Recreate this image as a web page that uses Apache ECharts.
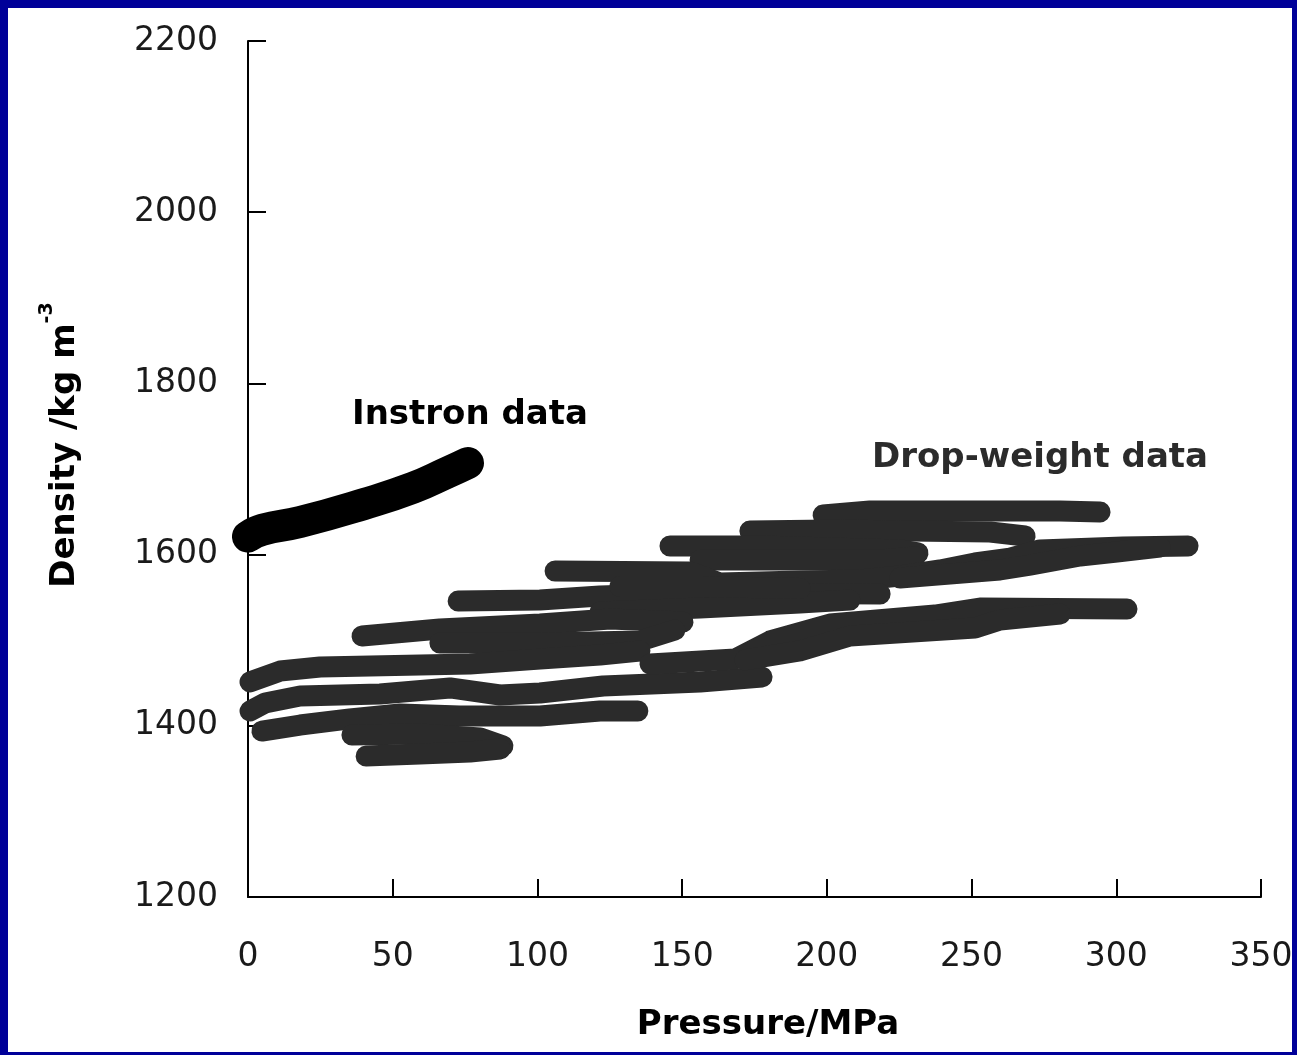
<!DOCTYPE html>
<html>
<head>
<meta charset="utf-8">
<script src="https://cdn.jsdelivr.net/npm/echarts@6/dist/echarts.min.js"></script>
<style>
  html, body { margin: 0; padding: 0; width: 1297px; height: 1055px; background: #000099; overflow: hidden; }
  #chart { position: absolute; left: 8px; top: 8px; width: 1284px; height: 1044px; background: #ffffff; }
</style>
</head>
<body>
<div id="chart"></div>
<script>
// Axis ranges (pressure in MPa, density in kg m^-3)
const pressureRange = [0, 350];
const pressureStep = 50;
const densityRange = [1200, 2200];
const densityStep = 200;

// Instron (quasi-static) compaction curve
const instronPressure = [0, 5, 18, 40, 57, 69, 76];
const instronDensity  = [1621, 1629, 1638, 1659, 1678, 1696, 1707];

// Drop-weight traces, each as [pressure, density] pairs
const dwTrace01 = [[198.7, 1646.3], [214.9, 1650.9], [280.6, 1650.9], [294.4, 1649.8]];
const dwTrace02 = [[173.4, 1627.6], [201.1, 1628.7], [256.4, 1626.4], [268.5, 1621.7]];
const dwTrace03 = [[145.8, 1610.1], [176.9, 1610.1], [225.3, 1605.4], [231.5, 1601.9]];
const dwTrace04 = [[156.2, 1593.7], [218.4, 1593.7], [230.5, 1597.2]];
const dwTrace05 = [[106.1, 1580.8], [152.7, 1579.7], [163.1, 1566.8], [190.7, 1569.2], [211.5, 1570.3],
                   [225.3, 1575.0], [239.1, 1582.0], [251.2, 1590.2], [263.3, 1596.0], [273.6, 1605.4],
                   [302.3, 1608.9], [324.8, 1610.1]];
const dwTrace06 = [[225.3, 1572.7], [242.5, 1577.3], [259.8, 1582.0], [270.2, 1587.8], [287.5, 1598.4],
                   [300.2, 1603.0], [315.1, 1608.9]];
const dwTrace07 = [[72.6, 1545.8], [100.9, 1547.0], [121.6, 1551.6], [156.2, 1555.1], [218.4, 1554.0]];
const dwTrace08 = [[121.6, 1532.9], [156.2, 1537.6], [190.7, 1543.5], [208.0, 1547.0]];
const dwTrace09 = [[39.4, 1504.9], [66.3, 1513.1], [100.9, 1518.9], [125.1, 1524.8], [150.3, 1521.3]];
const dwTrace10 = [[66.3, 1496.7], [100.9, 1496.7], [135.4, 1499.1], [147.5, 1511.9]];
const dwTrace11 = [[0.7, 1451.2], [11.1, 1464.0], [24.9, 1468.7], [76.7, 1472.2], [100.9, 1478.0],
                   [121.6, 1482.7], [135.4, 1487.4]];
const dwTrace12 = [[0.7, 1417.3], [5.9, 1426.6], [18.0, 1434.8], [45.6, 1437.1], [69.8, 1444.2],
                   [87.1, 1436.0], [100.9, 1438.3], [122.7, 1446.5], [156.2, 1451.2], [177.6, 1457.0]];
const dwTrace13 = [[4.8, 1393.9], [18.0, 1400.9], [35.2, 1408.0], [52.5, 1413.8], [73.2, 1411.4],
                   [100.9, 1411.4], [121.6, 1417.3], [134.7, 1417.3]];
const dwTrace14 = [[35.9, 1389.3], [59.4, 1390.4], [80.2, 1385.7], [88.1, 1376.4]];
const dwTrace15 = [[40.8, 1364.7], [59.4, 1367.1], [76.7, 1369.4], [87.1, 1372.9]];
const dwTrace16 = [[138.9, 1472.2], [168.3, 1478.0], [180.4, 1499.1], [201.1, 1518.9], [237.4, 1529.4],
                   [252.9, 1537.6], [303.7, 1536.4]];
const dwTrace17 = [[171.7, 1476.9], [190.7, 1487.4], [208.0, 1504.9], [251.2, 1514.3], [259.8, 1523.6],
                   [280.6, 1530.6]];
const dwTrace18 = [[128.5, 1562.6], [156.2, 1562.6], [190.7, 1560.3]];

const dropWeightTraces = [dwTrace01, dwTrace02, dwTrace03, dwTrace04, dwTrace05, dwTrace06, dwTrace07,
  dwTrace08, dwTrace09, dwTrace10, dwTrace11, dwTrace12, dwTrace13, dwTrace14, dwTrace15, dwTrace16,
  dwTrace17, dwTrace18];

const FONT = '"DejaVu Sans", sans-serif';
const DW_COLOR = '#2b2b2b';

const chart = echarts.init(document.getElementById('chart'), null, { renderer: 'canvas' });

const series = [];
dropWeightTraces.forEach(function (trace, i) {
  series.push({
    name: 'Drop-weight ' + (i + 1),
    type: 'line',
    data: trace,
    showSymbol: false,
    smooth: false,
    silent: true,
    lineStyle: { color: DW_COLOR, width: 21, cap: 'round', join: 'round' }
  });
});
series.push({
  name: 'Instron',
  type: 'line',
  data: instronPressure.map(function (p, i) { return [p, instronDensity[i]]; }),
  showSymbol: false,
  smooth: true,
  silent: true,
  lineStyle: { color: '#000000', width: 32, cap: 'round', join: 'round' }
});

const plainNumber = function (v) { return String(v); };

const axisCommon = {
  type: 'value',
  axisLine: { show: true, onZero: false, lineStyle: { color: '#000', width: 2 } },
  axisTick: { show: true, inside: true, length: 18, lineStyle: { color: '#000', width: 2 } },
  splitLine: { show: false },
  axisLabel: { fontFamily: FONT, fontSize: 33, color: '#1a1a1a', formatter: plainNumber }
};

chart.setOption({
  animation: false,
  backgroundColor: '#ffffff',
  grid: { left: 240, top: 33, width: 1013, height: 856, containLabel: false, outerBoundsMode: 'none' },
  xAxis: Object.assign({}, axisCommon, {
    min: pressureRange[0], max: pressureRange[1], interval: pressureStep,
    axisLabel: Object.assign({}, axisCommon.axisLabel, { margin: 44 })
  }),
  yAxis: Object.assign({}, axisCommon, {
    min: densityRange[0], max: densityRange[1], interval: densityStep,
    axisLabel: Object.assign({}, axisCommon.axisLabel, { margin: 30, padding: [6, 0, 0, 0] })
  }),
  series: series,
  graphic: [
    {
      type: 'text', x: 760, y: 1017,
      style: { text: 'Pressure/MPa', font: 'bold 34px ' + FONT, fill: '#000', align: 'center', verticalAlign: 'middle' }
    },
    {
      type: 'text', x: 52, y: 437, rotation: Math.PI / 2,
      style: {
        text: '{b|Density /kg m}{s|-3}',
        align: 'center', verticalAlign: 'middle',
        rich: {
          b: { fontFamily: FONT, fontWeight: 'bold', fontSize: 34, fill: '#000', lineHeight: 44, verticalAlign: 'bottom' },
          s: { fontFamily: FONT, fontWeight: 'bold', fontSize: 19, fill: '#000', lineHeight: 44, verticalAlign: 'top' }
        }
      }
    },
    {
      type: 'text', x: 344, y: 407,
      style: { text: 'Instron data', font: 'bold 34px ' + FONT, fill: '#000', align: 'left', verticalAlign: 'middle' }
    },
    {
      type: 'text', x: 864, y: 450,
      style: { text: 'Drop-weight data', font: 'bold 34px ' + FONT, fill: DW_COLOR, align: 'left', verticalAlign: 'middle' }
    }
  ]
});
</script>
</body>
</html>
